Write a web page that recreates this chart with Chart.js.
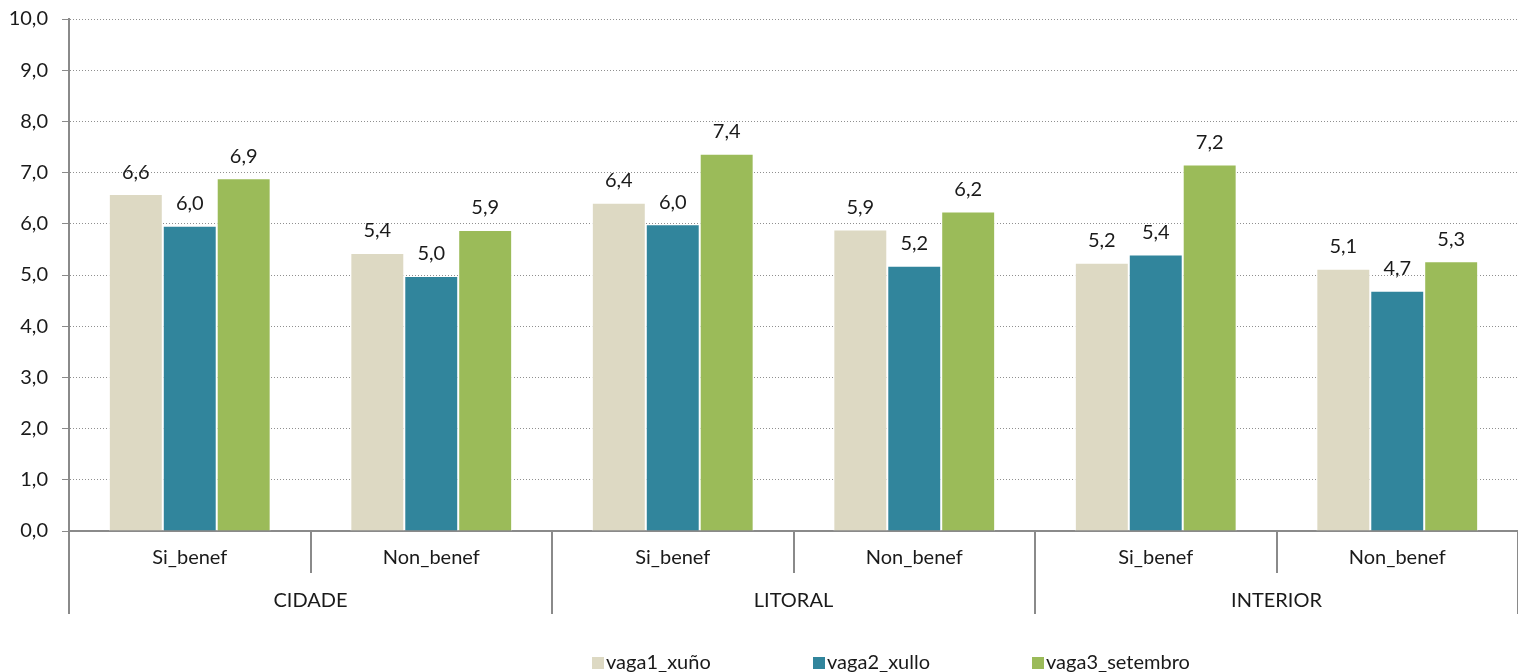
<!DOCTYPE html>
<html>
<head>
<meta charset="utf-8">
<script src="https://cdn.jsdelivr.net/npm/chart.js@4.4.1/dist/chart.umd.min.js"></script>
<style>
  html, body { margin: 0; padding: 0; background: #fff; }
  #wrap { width: 1518px; height: 672px; position: relative; }
</style>
</head>
<body>
<div id="wrap"><canvas id="myChart"></canvas></div>
<script>
// categories
const subCats = ['Si_benef', 'Non_benef', 'Si_benef', 'Non_benef', 'Si_benef', 'Non_benef'];
const groups = ['CIDADE', 'LITORAL', 'INTERIOR'];
const seriesNames = ['vaga1_xuño', 'vaga2_xullo', 'vaga3_setembro'];

// values
const vaga1 = [6.58, 5.43, 6.41, 5.89, 5.24, 5.12];
const vaga2 = [5.96, 4.98, 5.99, 5.18, 5.40, 4.69];
const vaga3 = [6.89, 5.88, 7.37, 6.24, 7.16, 5.27];

const colors = ['#DDD9C3', '#31859C', '#9BBB59'];
const FONT_FAMILY = 'Lato';
const FONT_SIZE = 20;
const TEXT = '#1a1a1a';
const AXIS = '#8a8a8a';

const fmt = v => v.toFixed(1).replace('.', ',');

const extras = {
  id: 'extras',
  afterDatasetsDraw(chart) {
    const ctx = chart.ctx;
    ctx.save();
    ctx.font = FONT_SIZE + 'px ' + FONT_FAMILY;
    ctx.fillStyle = TEXT;
    ctx.textAlign = 'center';
    ctx.textBaseline = 'middle';
    chart.data.datasets.forEach((ds, i) => {
      chart.getDatasetMeta(i).data.forEach((bar, j) => {
        ctx.fillText(fmt(ds.data[j]), bar.x, bar.y - 22);
      });
    });
    ctx.restore();
  },
  afterDraw(chart) {
    const ctx = chart.ctx;
    const x = chart.scales.x;
    const area = chart.chartArea;
    ctx.save();
    // category dividers below the axis
    ctx.strokeStyle = AXIS;
    ctx.lineWidth = 2;
    for (let i = 0; i <= subCats.length; i++) {
      const px = Math.round(x.getPixelForValue(i - 0.5));
      const len = i % 2 === 0 ? 83 : 42;
      ctx.beginPath();
      ctx.moveTo(px, area.bottom);
      ctx.lineTo(px, area.bottom + len);
      ctx.stroke();
    }
    // legend
    ctx.font = FONT_SIZE + 'px ' + FONT_FAMILY;
    ctx.textBaseline = 'middle';
    ctx.textAlign = 'left';
    const starts = [592, 813, 1032];
    const ly = 663;
    seriesNames.forEach((name, i) => {
      ctx.fillStyle = colors[i];
      ctx.fillRect(starts[i], ly - 6, 12, 12);
      ctx.fillStyle = TEXT;
      ctx.fillText(name, starts[i] + 14, ly);
    });
    ctx.restore();
  }
};

const datasets = [vaga1, vaga2, vaga3].map((d, i) => ({
  label: seriesNames[i],
  data: d,
  backgroundColor: colors[i],
  borderColor: '#ffffff',
  borderWidth: 1,
  borderSkipped: 'bottom',
  categoryPercentage: 0.67,
  barPercentage: 1.0
}));

new Chart(document.getElementById('myChart'), {
  type: 'bar',
  data: { labels: subCats, datasets: datasets },
  options: {
    responsive: true,
    maintainAspectRatio: false,
    animation: false,
    layout: { padding: { top: 19, left: 0, right: -4, bottom: 58 } },
    plugins: {
      legend: { display: false },
      tooltip: { enabled: false }
    },
    scales: {
      y: {
        min: 0,
        max: 10,
        afterFit(scale) {
          scale.width = 69;
          scale.paddingTop = 0;
          scale.paddingBottom = 0;
        },
        ticks: {
          stepSize: 1,
          padding: 14,
          color: TEXT,
          font: { family: FONT_FAMILY, size: FONT_SIZE },
          callback: v => fmt(v)
        },
        grid: {
          color: '#8f8f8f',
          tickLength: 7,
          tickColor: AXIS,
          tickBorderDash: [],
          tickWidth: 1
        },
        border: { display: true, color: AXIS, width: 2, dash: [1, 2] }
      },
      x: {
        afterFit(scale) { scale.height = 42; },
        ticks: {
          padding: 15,
          color: TEXT,
          font: { family: FONT_FAMILY, size: FONT_SIZE },
          maxRotation: 0
        },
        grid: { display: false, drawTicks: false },
        border: { display: true, color: AXIS, width: 2 }
      },
      x2: {
        type: 'category',
        position: 'bottom',
        labels: groups,
        offset: true,
        afterFit(scale) { scale.height = 41; },
        ticks: {
          padding: 16,
          color: TEXT,
          font: { family: FONT_FAMILY, size: FONT_SIZE },
          maxRotation: 0
        },
        grid: { display: false, drawTicks: false },
        border: { display: false }
      }
    }
  },
  plugins: [extras]
});
</script>
</body>
</html>
